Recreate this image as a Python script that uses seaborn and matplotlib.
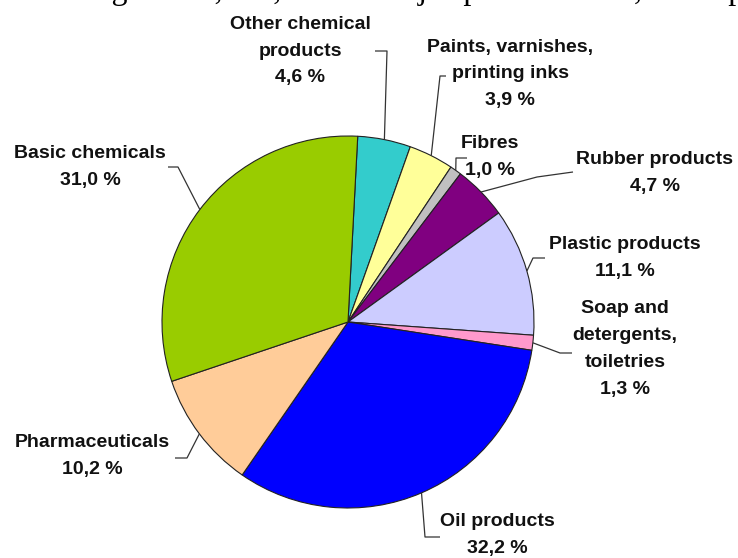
import matplotlib
matplotlib.use("Agg")
import matplotlib.pyplot as plt
import seaborn as sns
import numpy as np

# ---- data ----
categories = ["Other chemical\nproducts", "Paints, varnishes,\nprinting inks", "Fibres",
              "Rubber products", "Plastic products", "Soap and\ndetergents,\ntoiletries",
              "Oil products", "Pharmaceuticals", "Basic chemicals"]
values = [4.6, 3.9, 1.0, 4.7, 11.1, 1.3, 32.2, 10.2, 31.0]
value_labels = ["4,6 %", "3,9 %", "1,0 %", "4,7 %", "11,1 %", "1,3 %", "32,2 %", "10,2 %", "31,0 %"]
colors = ["#33CCCC", "#FFFF99", "#C0C0C0", "#800080", "#CCCCFF", "#FF99CC",
          "#0000FF", "#FFCC99", "#99CC00"]
top_text = "ai medžiagai – 10,2 %, kiti chemijos produktai – 4,6 % ir p"

sns.set_theme(style="white")
plt.rcParams['font.family'] = ['Liberation Sans', 'DejaVu Sans']

W, H = 738, 558
fig = plt.figure(figsize=(W / 100, H / 100), dpi=100)
ax = fig.add_axes([0, 0, 1, 1])

def P(x, y):
    return (x, H - y)

cx, cy = P(348, 322)
R = 186
palette = sns.color_palette(colors)
wedges, _ = ax.pie(values, colors=palette, startangle=87, counterclock=False,
                   center=(cx, cy), radius=R, frame=True,
                   wedgeprops=dict(edgecolor="#222222", linewidth=0.8))
ax.set_xlim(0, W)
ax.set_ylim(0, H)
ax.set_aspect('equal')
ax.axis('off')

# label layout (pixel positions): text center, leader points from text side
layout = [
    ((300, 51), [(375, 51), (387, 51)]),
    ((510, 74), [(446, 76), (440, 76)]),
    ((490, 157), [(467, 158), (456, 158)]),
    ((655, 173), [(573, 172), (537, 177)]),
    ((625, 258), [(545, 258), (533, 258)]),
    ((625, 349), [(572, 353), (560, 353)]),
    ((497, 535), [(440, 537), (425, 537)]),
    ((92, 456), [(175, 458), (187, 458)]),
    ((90, 167), [(168, 167), (178, 167)]),
]

for w, cat, vl, (tpos, pts) in zip(wedges, categories, value_labels, layout):
    mid = np.deg2rad((w.theta1 + w.theta2) / 2)
    ex, ey = cx + R * np.cos(mid), cy + R * np.sin(mid)
    xs = [P(*p)[0] for p in pts] + [ex]
    ys = [P(*p)[1] for p in pts] + [ey]
    ax.plot(xs, ys, color="#333333", lw=0.9, solid_capstyle='butt')
    tx, ty = P(*tpos)
    ax.text(tx, ty, cat + "\n" + vl, ha='center', va='center', fontsize=14,
            fontweight='bold', color="#111111", linespacing=1.75)

ax.text(-12, H + 1, top_text, ha='left', va='baseline', fontsize=23,
        family=['Liberation Serif', 'DejaVu Serif'], color='black', clip_on=False)

fig.savefig("out.png", dpi=100)
